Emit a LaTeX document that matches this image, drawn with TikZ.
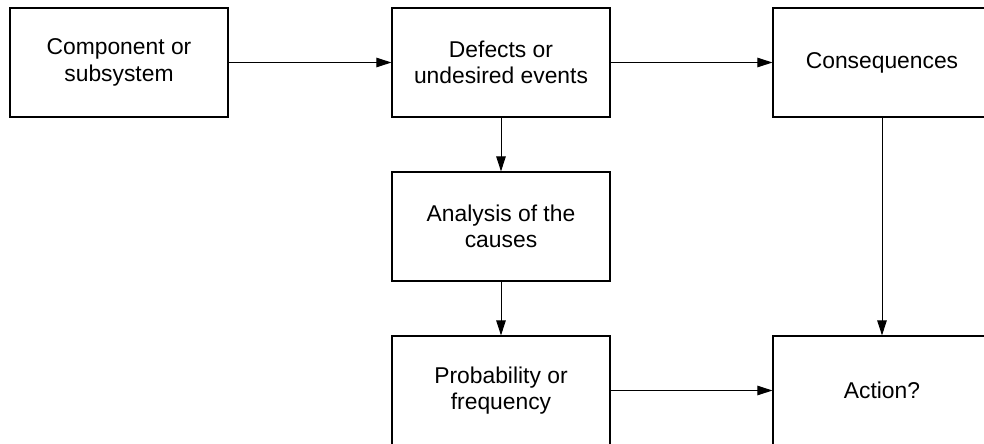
\documentclass[tikz,border=0pt]{standalone}
\usepackage{fontspec}
\setmainfont{Liberation Sans}
\usepackage{tikz}
\usetikzlibrary{positioning, arrows.meta}

\begin{document}
\begin{tikzpicture}[
    x=0.02cm, y=-0.02cm,
    every node/.style={align=center, font=\fontsize{13}{15.1}\selectfont},
    block/.style={draw, line width=0.7pt, minimum width=4.36cm, minimum height=2.18cm, inner sep=0pt},
    arrow/.style={-{Triangle[length=0.3cm, width=0.19cm]}, line width=0.55pt}
]
    \clip (0,0) rectangle (984,443);

    % Top row
    \node[block] (comp) at (119,62.5) {Component or\\subsystem};
    \node[block] (defect) at (501,62.5) {Defects or\\undesired events};
    \node[block] (conseq) at (882,62.5) {Consequences};

    % Middle column
    \node[block] (causes) at (501,226.5) {Analysis of the\\causes};
    \node[block] (prob) at (501,390.5) {Probability or\\frequency};

    % Result
    \node[block] (action) at (882,390.5) {Action?};

    % Connections
    \foreach \i/\j in {comp/defect, defect/conseq, defect/causes, causes/prob, prob/action, conseq/action} {
        \draw[arrow] (\i) -- (\j);
    }
\end{tikzpicture}
\end{document}
